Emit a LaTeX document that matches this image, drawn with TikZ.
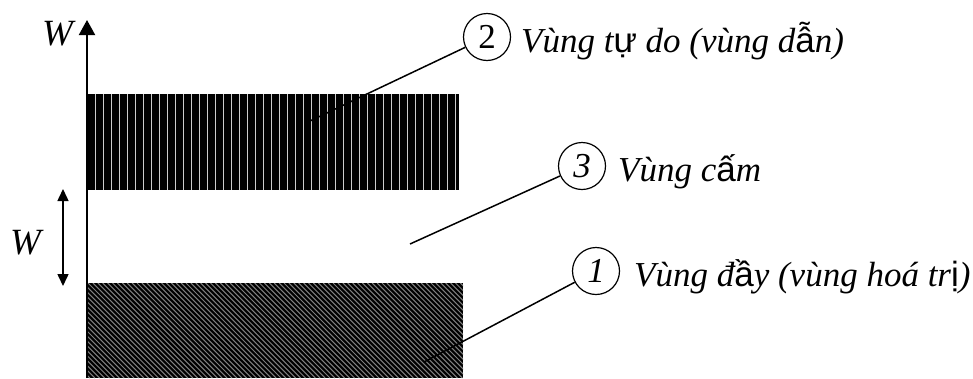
\documentclass[tikz,border=0pt]{standalone}
\usepackage{fontspec}
\setmainfont{Liberation Serif}
\newfontfamily\vsans{Liberation Sans}
\usetikzlibrary{arrows.meta}
\newcommand{\vs}[1]{{\vsans\upshape #1}}
\begin{document}
\begin{tikzpicture}[x=1pt,y=-1pt,
  lbl/.style={font=\fontsize{35}{38}\selectfont\itshape, inner sep=0pt, anchor=base west},
  wlbl/.style={font=\fontsize{37}{40}\selectfont\itshape, inner sep=0pt, anchor=base west},
  num/.style={draw, line width=1.2pt, circle, minimum size=47pt, inner sep=0pt, font=\fontsize{35}{36}\selectfont},
  lead/.style={line width=1.5pt},
  ax/.style={line width=2pt}]
\useasboundingbox (0,0) rectangle (973,378);
% top band
\fill[black] (88,94) rectangle (459,190);
\foreach \i in {0,...,45} {
  \fill[white!80!black] (94.5+8*\i,94) rectangle ++(1.8,96);
}
% bottom band
\begin{scope}
\clip (88,283) rectangle (463,378);
\fill[black] (88,283) rectangle (463,378);
\foreach \i in {0,...,100} {
  \draw[white!50!black, line width=1pt] (-10+4.9*\i,283) -- ++(95,95);
}
\end{scope}
% axis
\coordinate (ab) at (87,378);
\coordinate (at) at (87,20);
\draw[ax, -{Triangle[length=15pt,width=16pt]}] (ab) -- (at);
\node[wlbl] (wt) at (42,45) {W};
% gap arrow
\coordinate (ga) at (63,189);
\coordinate (gb) at (63,286);
\draw[line width=1.5pt, {Triangle[length=12pt,width=11pt]}-{Triangle[length=12pt,width=11pt]}] (ga) -- (gb);
\node[wlbl] (wl) at (10,254) {W};
% circles
\node[num] (c2) at (487,37) {2};
\node[num, font=\fontsize{35}{36}\selectfont\itshape] (c3) at (582,166) {3};
\node[num, font=\fontsize{35}{36}\selectfont\itshape] (c1) at (596,271) {1};
% labels
\node[lbl] (t2) at (521,52) {Vùng t\vs{ự} do (vùng d\vs{ẫ}n)};
\node[lbl] (t3) at (618,181) {Vùng c\vs{ấ}m};
\node[lbl] (t1) at (634,286) {Vùng đ\vs{ầ}y (vùng hoá tr\vs{ị})};
% leaders
\coordinate (e2) at (310,121);
\coordinate (e3) at (410,244);
\coordinate (e1) at (424,362);
\draw[lead] (c2) -- (e2);
\draw[lead] (c3) -- (e3);
\draw[lead] (c1) -- (e1);
\end{tikzpicture}
\end{document}
